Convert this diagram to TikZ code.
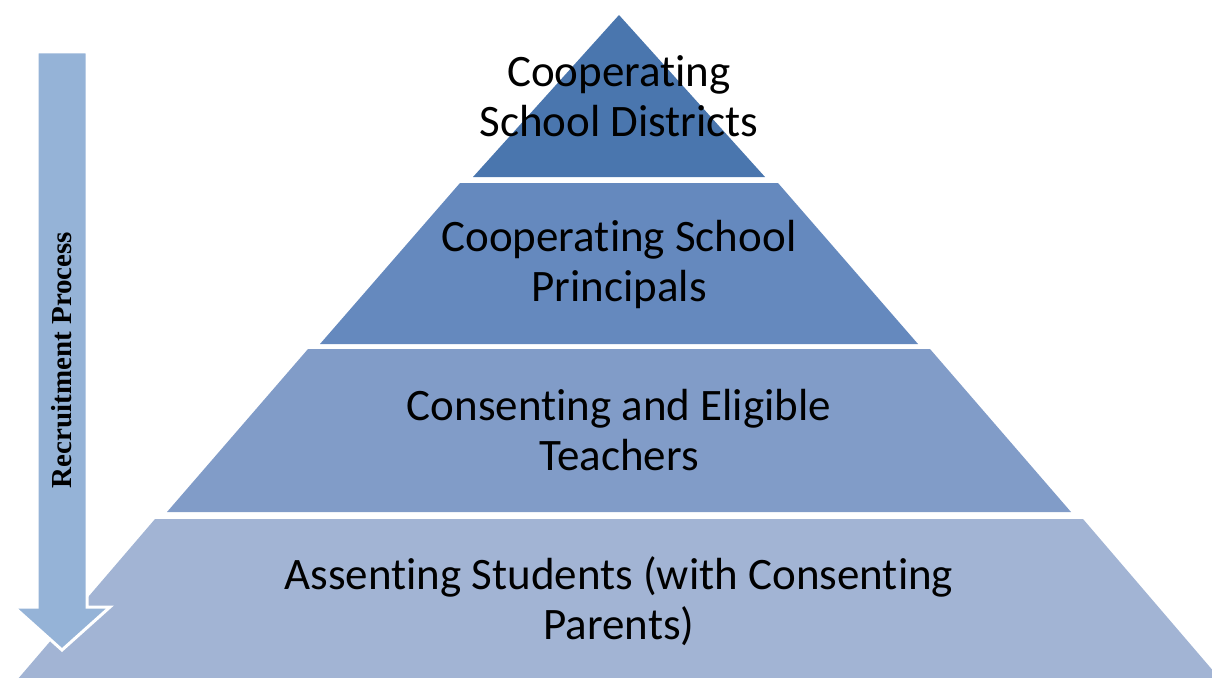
\documentclass[tikz,border=0pt]{standalone}
\usepackage{fontspec}
\setmainfont[Ligatures=NoCommon]{Carlito}
\newfontfamily\labelserif{Liberation Serif}
\begin{document}
\begin{tikzpicture}[x=1pt,y=-1pt,
  tiertext/.style={font=\fontsize{45}{50}\selectfont, align=center, text=black, inner sep=0pt},
  flowarrow/.style={fill=arrowblue, draw=white, line width=3pt, line join=miter}
]
\definecolor{tierA}{HTML}{4A76AE}
\definecolor{tierB}{HTML}{6589BE}
\definecolor{tierC}{HTML}{819CC8}
\definecolor{tierD}{HTML}{A2B4D4}
\definecolor{arrowblue}{HTML}{95B3D7}
\useasboundingbox (0,0) rectangle (1212,677);
\clip (0,0) rectangle (1212,677);

% pyramid tiers, top to bottom
\fill[tierA] (619,15) -- (765,177) -- (473,177) -- cycle;
\fill[tierB] (460,183) -- (778,183) -- (918,344) -- (320,344) -- cycle;
\fill[tierC] (308,349) -- (930,349) -- (1071,512) -- (167,512) -- cycle;
\fill[tierD] (155,519) -- (1083,519) -- (1221,680) -- (17,680) -- cycle;

% tier labels
\node[tiertext] (t1) at (619,96) {Cooperating\\School Districts};
\node[tiertext] (t2) at (619,264) {Cooperating School\\Principals};
\node[tiertext] (t3) at (619,430) {Consenting and Eligible\\Teachers};
\node[tiertext] (t4) at (619,601) {Assenting Students (with Consenting\\Parents)};

% downward process arrow
\draw[flowarrow] (37,52) -- (87,52) -- (87,607) -- (110,607) -- (62,650)
  -- (14,607) -- (37,607) -- cycle;
\node[rotate=90, font=\labelserif\bfseries\fontsize{29}{34}\selectfont, inner sep=0pt]
  (proc) at (62,360) {Recruitment Process};
\end{tikzpicture}
\end{document}
